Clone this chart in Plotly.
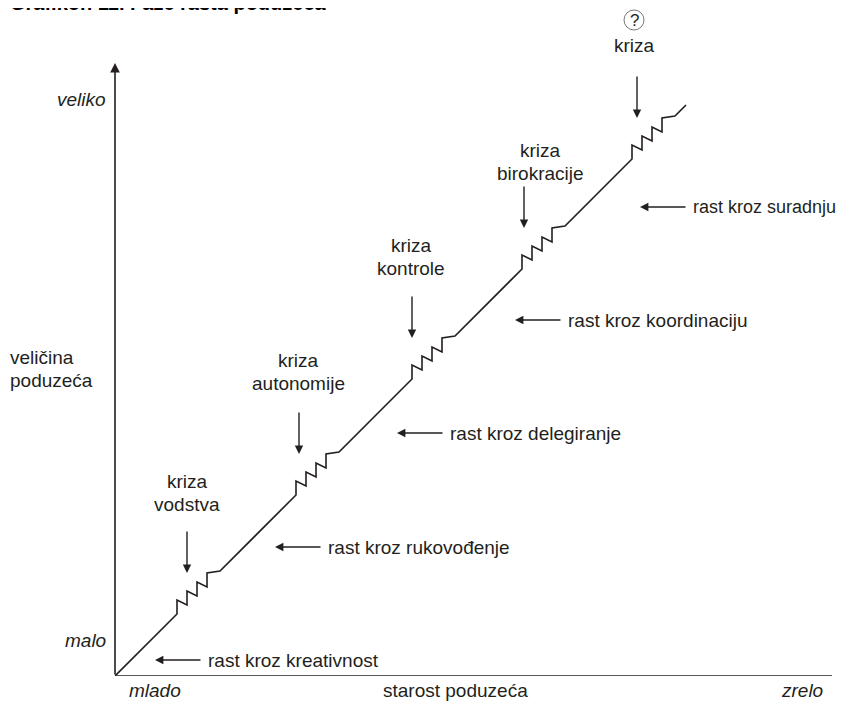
import plotly.graph_objects as go

# Greiner growth model, coordinates in "size units" measured from the origin
crisis_labels = ["kriza<br>vodstva", "kriza<br>autonomije", "kriza<br>kontrole",
                 "kriza<br>birokracije", "kriza"]
crisis_start = [62, 181, 297, 407, 517]
crisis_arrow_x = [72, 184, 297, 409, 522]
crisis_label_x = [72, 183, 296, 425, 519]
crisis_label_y = [183, 304, 419, 514, 631]

phase_labels = ["rast kroz kreativnost", "rast kroz rukovođenje", "rast kroz delegiranje",
                "rast kroz koordinaciju", "rast kroz suradnju"]
phase_arrow_tip = [40, 160, 282, 400, 525]
phase_y = [16, 129, 243, 356, 469]

# one "crisis" zigzag, relative to its start
zig_dx = [0, 0, 10, 10, 20, 20, 30, 30, 43]
zig_dy = [0, 14, 9, 23, 18, 32, 27, 41, 43]
line_end = 571

FONT = "Liberation Sans, Arial, sans-serif"
INK = "#231f20"

# page has an 8px body margin, so the figure is drawn 8px smaller
W, H = 838, 698
OX, OY = 107, 668          # origin inside the figure
PLOT_W, PLOT_H = 731, 668

xs, ys = [0], [0]
for s in crisis_start:
    for dx, dy in zip(zig_dx, zig_dy):
        xs.append(s + dx)
        ys.append(s + dy)
xs.append(line_end)
ys.append(line_end)

fig = go.Figure()
fig.add_trace(go.Scatter(x=xs, y=ys, mode="lines",
                         line=dict(color=INK, width=1.6), hoverinfo="skip"))

ann = []
# axes
fig.add_shape(type="line", x0=0, y0=0, x1=717, y1=0, line=dict(color=INK, width=1.6))
ann.append(dict(x=0, y=613, ax=0, ay=0, xref="x", yref="y", axref="x", ayref="y",
                showarrow=True, arrowhead=2, arrowsize=1.2, arrowwidth=1.6,
                arrowcolor=INK, text=""))

# crisis arrows + labels
for i, lab in enumerate(crisis_labels):
    tip = crisis_start[i] + 41
    ann.append(dict(x=crisis_arrow_x[i], y=tip, ax=crisis_arrow_x[i], ay=tip + 43,
                    xref="x", yref="y", axref="x", ayref="y", showarrow=True,
                    arrowhead=2, arrowsize=1.2, arrowwidth=1.4, arrowcolor=INK, text=""))
    lines = lab.split("<br>")
    for j, ln in enumerate(lines):
        yy = crisis_label_y[i] + (len(lines) - 1) * 11.5 - j * 23
        ann.append(dict(x=crisis_label_x[i], y=yy, xref="x", yref="y",
                        text=ln, showarrow=False, xanchor="center", yanchor="middle",
                        font=dict(family=FONT, size=19, color=INK)))

# question mark in a circle above the last crisis
fig.add_shape(type="circle", x0=509, y0=646, x1=529, y1=666,
              line=dict(color="#555555", width=0.8))
ann.append(dict(x=519, y=656, xref="x", yref="y", text="?", showarrow=False,
                font=dict(family=FONT, size=17, color=INK)))

# phase arrows + labels
for i, lab in enumerate(phase_labels):
    tip = phase_arrow_tip[i]
    ann.append(dict(x=tip, y=phase_y[i], ax=tip + 47, ay=phase_y[i],
                    xref="x", yref="y", axref="x", ayref="y", showarrow=True,
                    arrowhead=2, arrowsize=1.2, arrowwidth=1.4, arrowcolor=INK, text=""))
    # the last label runs right up to the page edge
    size = 18 if i == len(phase_labels) - 1 else 19
    ann.append(dict(x=tip + 51, y=phase_y[i], xref="x", yref="y", text=lab,
                    showarrow=False, xanchor="left", yanchor="middle",
                    font=dict(family=FONT, size=size, color=INK)))

# axis texts, placed by window pixel (converted to paper units)
axis_texts = [
    ("<i>veliko</i>", 108, 100, "right"),
    ("veličina", 8, 357, "left"),
    ("poduzeća", 8, 380, "left"),
    ("<i>malo</i>", 108, 640, "right"),
    ("<i>mlado</i>", 155, 690, "center"),
    ("starost poduzeća", 455, 690, "center"),
    ("<i>zrelo</i>", 802, 690, "center"),
]
for t, px, py, anc in axis_texts:
    ann.append(dict(x=(px - 8 - OX) / PLOT_W, y=(OY - (py - 8)) / PLOT_H,
                    xref="paper", yref="paper", text=t,
                    showarrow=False, xanchor=anc, yanchor="middle",
                    font=dict(family=FONT, size=19, color=INK)))

# title, mostly cut off at the top edge
ann.append(dict(x=(8 - 8 - OX) / PLOT_W, y=(OY - (3 - 8)) / PLOT_H,
                xref="paper", yref="paper",
                text="<b>Grafikon 11. Faze rasta poduzeća</b>", showarrow=False,
                xanchor="left", yanchor="middle",
                font=dict(family=FONT, size=20, color="#000000")))

fig.update_layout(
    width=W, height=H,
    margin=dict(l=OX, r=W - OX - PLOT_W, t=0, b=H - OY),
    paper_bgcolor="white", plot_bgcolor="white",
    showlegend=False,
    xaxis=dict(range=[0, PLOT_W], visible=False),
    yaxis=dict(range=[0, PLOT_H], visible=False),
    annotations=ann,
)

fig.write_html("out.html")
